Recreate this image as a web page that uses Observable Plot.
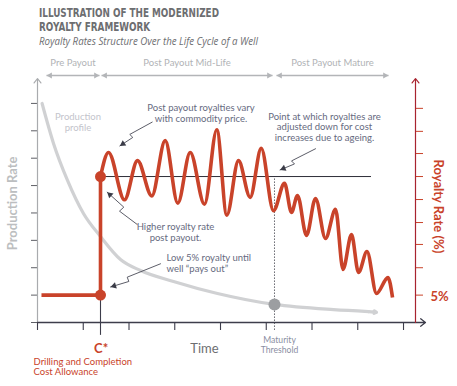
<!DOCTYPE html>
<html><head><meta charset="utf-8">
<script src="https://cdn.jsdelivr.net/npm/d3@7"></script>
<script src="https://cdn.jsdelivr.net/npm/@observablehq/plot@0.6"></script>
<style>
body{margin:0;background:#fff;width:457px;height:386px;overflow:hidden;}
#hdr{position:relative;height:50px;width:457px;}
#hdr div{position:absolute;left:39px;white-space:nowrap;transform-origin:0 0;color:#6d6e71;}
.t{font-family:"Liberation Sans Narrow","DejaVu Sans Condensed",sans-serif;font-weight:bold;font-size:13px;line-height:12px;}
.s{font-family:"Liberation Sans Narrow","Open Sans",sans-serif;font-style:italic;font-size:11.5px;line-height:11px;}
#chart svg{display:block;}
</style></head><body>
<div id="hdr">
<div class="t" id="t1" style="top:6.5px">ILLUSTRATION OF THE MODERNIZED</div>
<div class="t" id="t2" style="top:20.5px">ROYALTY FRAMEWORK</div>
<div class="s" id="st" style="top:34.5px">Royalty Rates Structure Over the Life Cycle of a Well</div>
</div>
<div id="chart"></div>
<script>
// ---- axis ticks ----
const timeTicks = [0, 1, 2, 3, 4, 5, 6, 7, 8];
const prodTicks = [0, 1, 2, 3, 4, 5, 6, 7, 8];
const royaltyTicks = [1.0, 2.0, 2.85, 3.65, 4.49, 5.33, 6.17, 6.98, 7.82];
const xMax = 8.262, xArrow = 8.48, yMax = 8.91;

// ---- key times / levels ----
const cStar = 1.377, maturity = 5.18;
const lowRoyalty = 1.0, highRoyalty = 5.33, priceRefEnd = 7.30;
const belowAxisC = -0.47, belowAxisM = -0.29;

// ---- phases ----
const phaseNames = ["Pre Payout", "Post Payout Mid-Life", "Post Payout Mature"];
const phaseStart = [0.197, 1.40, 5.224];
const phaseEnd = [1.355, 5.137, 7.672];
const phaseLineV = 9.02, phaseLabelV = 9.46;

// ---- production profile ----
const prodT = [0.10, 0.35, 0.656, 1.005, 1.377, 1.814, 2.251, 2.973, 3.934, 5.180, 6.470, 7.235];
const prodV = [8.00, 6.54, 5.19, 3.98, 3.14, 2.30, 1.90, 1.50, 1.06, 0.66, 0.47, 0.40];
const prodTipT = 7.41, prodTipV = 0.37;

// ---- royalty rate ----
const payoutT = [0.087, cStar, cStar];
const payoutR = [lowRoyalty, lowRoyalty, highRoyalty];
const waveT = [1.377, 1.552, 1.902, 2.186, 2.498, 2.791, 3.067, 3.338, 3.650, 3.919, 4.138, 4.393, 4.649, 4.890, 5.158,
               5.399, 5.552, 5.683, 5.880, 6.077, 6.295, 6.514, 6.678, 6.863, 7.016, 7.202, 7.410, 7.661, 7.760];
const waveR = [5.33, 6.21, 4.48, 5.91, 4.62, 6.64, 4.36, 6.21, 4.32, 7.04, 3.92, 5.91, 4.57, 6.36, 4.08,
               5.08, 4.02, 4.64, 3.18, 4.53, 3.07, 4.13, 1.94, 3.21, 1.83, 2.59, 1.06, 1.64, 0.91];

// ---- callout arrows (start, jog1, jog2, tip) ----
const calloutT = [[2.507, 2.017, 2.083, 1.799], [6.077, 5.552, 5.617, 5.301], [2.179, 1.792, 1.886, 1.523], [2.689, 1.961, 1.996, 1.596]];
const calloutV = [[7.317, 6.868, 6.758, 6.448], [6.345, 5.900, 5.790, 5.571], [3.580, 4.066, 4.212, 4.760], [2.144, 1.655, 1.498, 1.297]];

// ---- notes ----
const noteText = ["Post payout royalties vary\nwith commodity price.",
                  "Point at which royalties are\nadjusted down for cost\nincreases due to ageing.",
                  "Higher royalty rate\npost payout."];
const noteT = [3.574, 6.273, 3.016];
const noteV = [7.65, 7.14, 3.30];
const lowNoteText = ["Low 5% royalty until\nwell “pays out”"];
const lowNoteT = [2.82], lowNoteV = [2.17];

// ---- colours ----
const RED = "#c9432a", AXRED = "#a8232f", DARK = "#3d3d4b", GREY = "#a9abae", NOTE = "#666a80";

// ---- layout ----
const W = 457, H = 336, ML = 37, MR = 42, MT = 28, MB = 64;
const kx = (W - ML - MR) / xMax, ky = (H - MT - MB) / yMax;
const HEAD_R = 2.4;
const tipDist = 2 * Math.sqrt(HEAD_R * HEAD_R * Math.PI / (3 * Math.sqrt(3)));

const prod = prodT.map((t, i) => ({t, v: prodV[i]}));
const payout = payoutT.map((t, i) => ({t, v: payoutR[i]}));
const wave = waveT.map((t, i) => ({t, v: waveR[i]}));
const phases = phaseNames.map((name, i) => ({name, s: phaseStart[i], e: phaseEnd[i], m: (phaseStart[i] + phaseEnd[i]) / 2}));
const callouts = [];
const heads = [];
calloutT.forEach((ts, k) => {
  ts.forEach((t, j) => callouts.push({k, t, v: calloutV[k][j]}));
  const tT = ts[3], vT = calloutV[k][3], tP = ts[2], vP = calloutV[k][2];
  const dx = (tT - tP) * kx, dy = -(vT - vP) * ky, len = Math.hypot(dx, dy);
  const ux = dx / len, uy = dy / len;
  heads.push({t: tT - ux * tipDist / kx, v: vT + uy * tipDist / ky, a: Math.atan2(dx, -dy) * 180 / Math.PI});
});
const notes = noteText.map((text, i) => ({text, t: noteT[i], v: noteV[i]}));
const lowNotes = lowNoteText.map((text, i) => ({text, t: lowNoteT[i], v: lowNoteV[i]}));

const SANS = "Lato, 'Open Sans', sans-serif";
const noLabel = () => "";

const chart = Plot.plot({
  width: W, height: H,
  marginLeft: ML, marginRight: MR, marginTop: MT, marginBottom: MB,
  x: {domain: [0, xMax], axis: null},
  y: {domain: [0, yMax], axis: null},
  style: {fontFamily: SANS, background: "#fff", overflow: "visible"},
  marks: [
    // phase arrows
    Plot.link(phases, {x1: "s", x2: "e", y1: phaseLineV, y2: phaseLineV, stroke: "#b3b5b8", strokeWidth: 1.4}),
    Plot.dot(phases, {x: "s", y: phaseLineV, symbol: "triangle", r: 2.3, rotate: -90, dx: tipDist * 0.95, fill: "#b3b5b8", stroke: "none"}),
    Plot.dot(phases, {x: "e", y: phaseLineV, symbol: "triangle", r: 2.3, rotate: 90, dx: -tipDist * 0.95, fill: "#b3b5b8", stroke: "none"}),
    Plot.text(phases, {x: "m", y: phaseLabelV, text: "name", fill: "#b1b3b6", fontSize: 9.5}),

    // axes ticks
    Plot.axisY(prodTicks, {anchor: "left", tickSize: 6, tickFormat: noLabel, label: null, stroke: "#5e5f66", strokeWidth: 1}),
    Plot.axisX(timeTicks, {anchor: "bottom", tickSize: 8, tickFormat: noLabel, label: null, stroke: DARK, strokeWidth: 1.1}),
    Plot.axisY(royaltyTicks, {anchor: "right", tickSize: 7, tickFormat: noLabel, label: null, stroke: RED, strokeWidth: 1}),

    // production profile
    Plot.line(prod, {x: "t", y: "v", curve: "monotone-x", stroke: "#d0d1d3", strokeWidth: 3.2}),
    Plot.arrow([{x1: prodT[prodT.length - 1], y1: prodV[prodV.length - 1], x2: prodTipT, y2: prodTipV}],
      {x1: "x1", y1: "y1", x2: "x2", y2: "y2", stroke: "#d0d1d3", strokeWidth: 3.2, headLength: 13, headAngle: 55}),

    // reference lines
    Plot.ruleX([maturity], {y1: belowAxisM, y2: highRoyalty, stroke: "#55565f", strokeWidth: 0.9, strokeDasharray: "1.5,1.5"}),
    Plot.ruleX([cStar], {y1: belowAxisC, y2: lowRoyalty, stroke: DARK, strokeWidth: 1.1}),
    Plot.ruleY([highRoyalty], {x1: cStar, x2: priceRefEnd, stroke: "#2e2e38", strokeWidth: 1}),

    // axis lines with arrowheads
    Plot.arrow([{x1: 0, y1: 0, x2: 0, y2: yMax}], {x1: "x1", y1: "y1", x2: "x2", y2: "y2", stroke: GREY, strokeWidth: 1.2, headLength: 7, headAngle: 75}),
    Plot.arrow([{x1: 0, y1: 0, x2: xArrow, y2: 0}], {x1: "x1", y1: "y1", x2: "x2", y2: "y2", stroke: DARK, strokeWidth: 1.3, headLength: 7, headAngle: 75}),
    Plot.arrow([{x1: xMax, y1: 0, x2: xMax, y2: yMax}], {x1: "x1", y1: "y1", x2: "x2", y2: "y2", stroke: AXRED, strokeWidth: 1.2, headLength: 7, headAngle: 75}),

    // royalty rate
    Plot.line(payout, {x: "t", y: "v", stroke: RED, strokeWidth: 3.6, strokeLinejoin: "miter", strokeLinecap: "butt"}),
    Plot.line(wave, {x: "t", y: "v", curve: "monotone-x", stroke: RED, strokeWidth: 3.6, strokeLinecap: "butt"}),
    Plot.dot([{t: cStar, v: lowRoyalty}, {t: cStar, v: highRoyalty}], {x: "t", y: "v", r: 5.5, fill: RED, stroke: "none"}),
    Plot.dot([{t: maturity, v: prodV[prodT.indexOf(5.180)]}], {x: "t", y: "v", r: 6, fill: "#9c9ea1", stroke: "none"}),

    // callouts
    Plot.line(callouts, {x: "t", y: "v", z: "k", stroke: "#4a4b57", strokeWidth: 0.9}),
    Plot.dot(heads, {x: "t", y: "v", rotate: "a", symbol: "triangle", r: HEAD_R, fill: "#3a3b47", stroke: "none"}),

    // notes
    Plot.text(notes, {x: "t", y: "v", text: "text", textAnchor: "middle", fill: NOTE, fontSize: 9.5, lineHeight: 1.13}),
    Plot.text(lowNotes, {x: "t", y: "v", text: "text", textAnchor: "start", fill: NOTE, fontSize: 9.5, lineHeight: 1.13}),
    Plot.text(["Production\nprofile"], {x: 0.885, y: 7.32, text: d => d, fill: "#c3c4cc", fontSize: 9.5, lineHeight: 1.13}),

    // axis titles and labels
    Plot.text(["Production Rate"], {x: -0.536, y: 4.35, text: d => d, rotate: -90, fill: "#bcbec0", fontSize: 13, fontWeight: "bold"}),
    Plot.text(["Royalty Rate (%)"], {x: 8.765, y: 4.24, text: d => d, rotate: 90, fill: RED, fontSize: 13, fontWeight: "bold"}),
    Plot.text(["5%"], {x: 8.59, y: lowRoyalty - 0.05, text: d => d, textAnchor: "start", fill: RED, fontSize: 13, fontWeight: "bold"}),
    Plot.text(["Time"], {x: 3.65, y: -0.975, text: d => d, fill: "#6d6e71", fontSize: 13, letterSpacing: 0.5}),
    Plot.text(["C*"], {x: cStar + 0.015, y: -0.95, text: d => d, fill: RED, fontSize: 13, fontWeight: "bold"}),
    Plot.text(["Drilling and Completion\nCost Allowance"], {x: -0.087, y: -1.61, text: d => d, textAnchor: "start", fill: RED, fontSize: 9.5, lineHeight: 1.07}),
    Plot.text(["Maturity\nThreshold"], {x: 5.29, y: -0.83, text: d => d, fill: "#8a8ea2", fontSize: 8.6, lineHeight: 1.15})
  ]
});
document.getElementById("chart").appendChild(chart);

function fit() {
  const t1 = document.getElementById("t1"), t2 = document.getElementById("t2"), st = document.getElementById("st");
  t1.style.transform = t2.style.transform = st.style.transform = "";
  const f = 180 / t1.getBoundingClientRect().width;
  t1.style.transform = t2.style.transform = `scaleX(${f})`;
  const g = 219 / st.getBoundingClientRect().width;
  st.style.transform = `scaleX(${g})`;
}
fit();
if (document.fonts && document.fonts.ready) document.fonts.ready.then(fit);
</script>
</body></html>
